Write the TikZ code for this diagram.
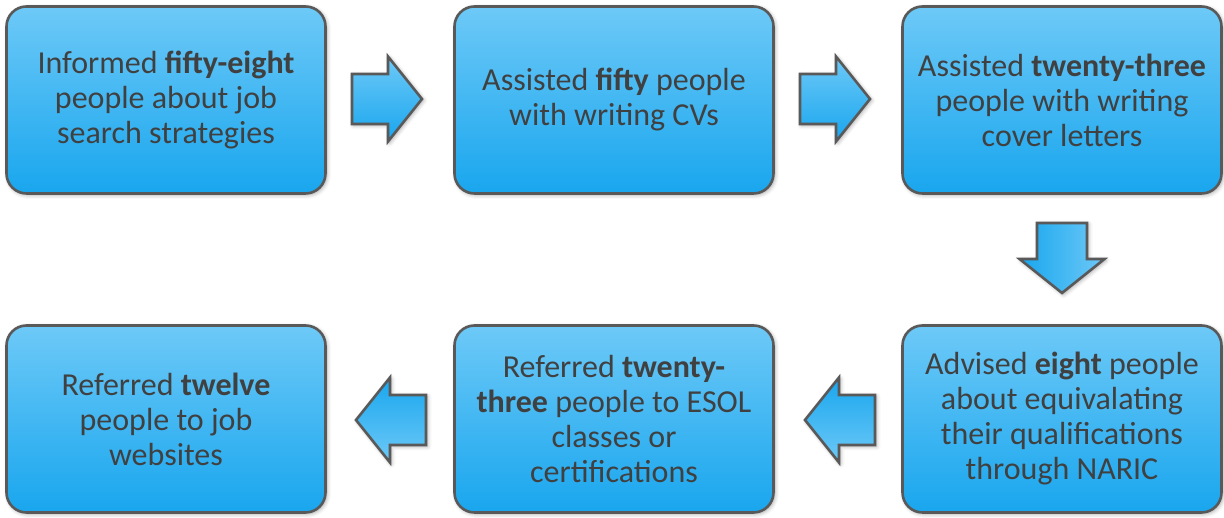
\documentclass[tikz,border=0pt]{standalone}
\usepackage{fontspec}
\setmainfont{Carlito}
\usetikzlibrary{calc,shadows.blur}
\definecolor{boxtop}{HTML}{6DC9F7}
\definecolor{boxbot}{HTML}{19A6EE}
\definecolor{edgegray}{HTML}{595959}
\definecolor{txtgray}{HTML}{404040}
\tikzset{
  softshadow/.style={blur shadow={shadow xshift=1.5pt, shadow yshift=-1.5pt, shadow blur radius=4pt, shadow opacity=35}},
  stepbox/.style={rounded corners=20pt, draw=edgegray, line width=2.6pt,
    top color=boxtop, bottom color=boxbot, minimum width=319pt, minimum height=187pt,
    align=center, text=txtgray, font=\fontsize{32}{35}\selectfont, softshadow},
  blockarrow/.style={draw=edgegray, line width=2.6pt, top color=boxtop, bottom color=boxbot,
    line join=miter, softshadow},
}
\newcommand\myblockarrow[2]{%
  \begin{scope}[shift={(#1)}, rotate=#2]
    \draw[blockarrow, shading angle=#2] (-35,-25) -- (1,-25) -- (1,-42.5) -- (35,0) -- (1,42.5) -- (1,25) -- (-35,25) -- cycle;
  \end{scope}}
\begin{document}
\begin{tikzpicture}[x=1pt,y=1pt]
\useasboundingbox (0,0) rectangle (1224,518);
\node[stepbox] (b1) at (166,418) {Informed \textbf{fifty-eight}\\people about job\\search strategies};
\node[stepbox] (b2) at (614,418) {Assisted \textbf{fifty} people\\with writing CVs};
\node[stepbox] (b3) at (1062,418) {Assisted \textbf{twenty-three}\\people with writing\\cover letters};
\node[stepbox] (b4) at (1062,99) {Advised \textbf{eight} people\\about equivalating\\their qualifications\\through NARIC};
\node[stepbox] (b5) at (614,99) {Referred \textbf{twenty-}\\\textbf{three} people to ESOL\\classes or\\certifications};
\node[stepbox] (b6) at (166,99) {Referred \textbf{twelve}\\people to job\\websites};
\coordinate (a1) at (387,419);
\coordinate (a2) at (835,419);
\coordinate (a3) at (1062,260);
\coordinate (a4) at (391,98);
\coordinate (a5) at (840,98);
\myblockarrow{a1}{0}
\myblockarrow{a2}{0}
\myblockarrow{a3}{-90}
\myblockarrow{a4}{180}
\myblockarrow{a5}{180}
\end{tikzpicture}
\end{document}
